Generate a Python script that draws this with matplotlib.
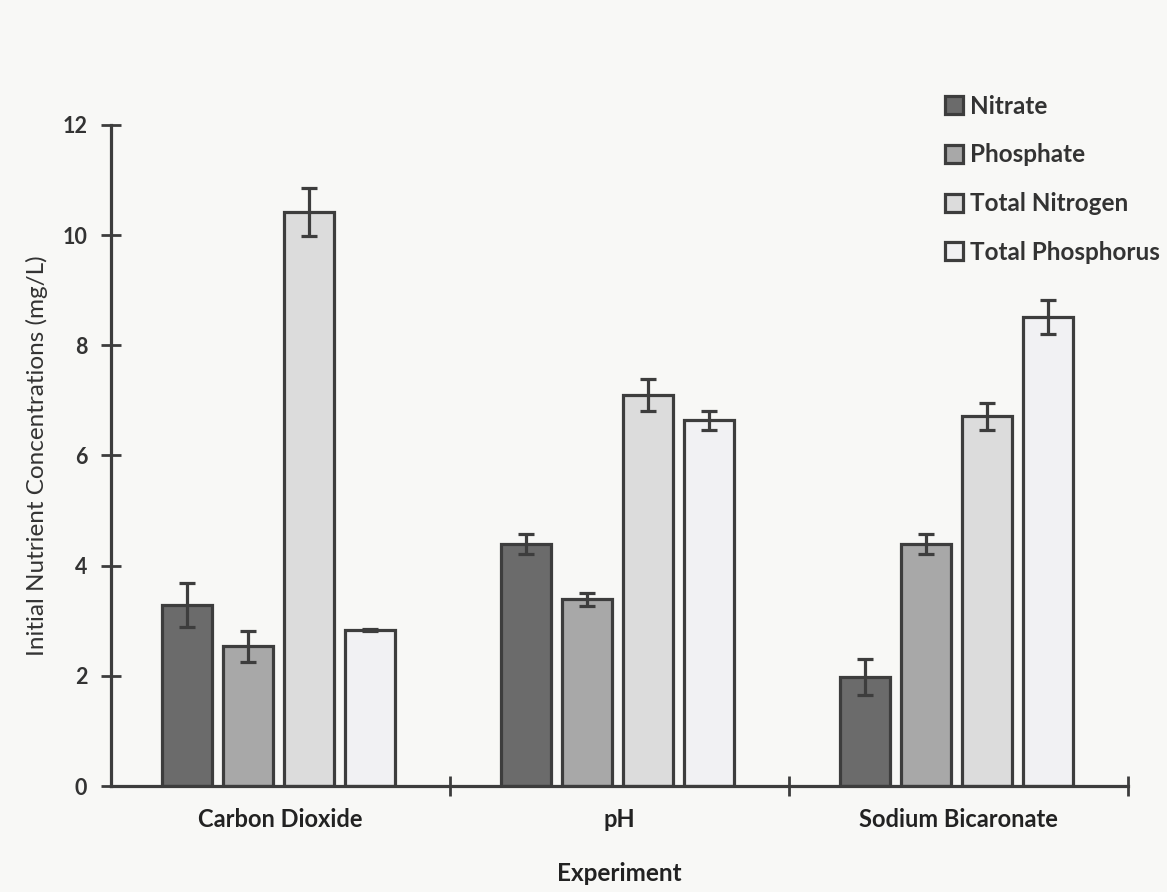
import matplotlib.pyplot as plt
import numpy as np

# данные
experiments = ["Carbon Dioxide", "pH", "Sodium Bicaronate"]
series = ["Nitrate", "Phosphate", "Total Nitrogen", "Total Phosphorus"]
nitrate = [3.28, 4.39, 1.98]
phosphate = [2.54, 3.39, 4.39]
total_nitrogen = [10.42, 7.10, 6.71]
total_phosphorus = [2.83, 6.64, 8.51]
nitrate_err = [0.40, 0.18, 0.33]
phosphate_err = [0.28, 0.12, 0.18]
total_nitrogen_err = [0.43, 0.29, 0.25]
total_phosphorus_err = [0.02, 0.17, 0.31]

values = [nitrate, phosphate, total_nitrogen, total_phosphorus]
errors = [nitrate_err, phosphate_err, total_nitrogen_err, total_phosphorus_err]
colors = ["#6b6b6b", "#a8a8a8", "#dcdcdc", "#f1f1f3"]
edge = "#3d3d3d"
bg = "#f8f8f6"

plt.rcParams['font.family'] = ['Lato', 'DejaVu Sans']

fig = plt.figure(figsize=(11.67, 8.92), dpi=100, facecolor=bg)
ax = fig.add_axes([0.0951, 0.1188, 0.8715, 0.7411])
ax.set_facecolor(bg)

x = np.arange(len(experiments))
width = 0.147
step = 0.18
for i in range(len(series)):
    pos = x + (i - 1.5) * step
    ax.bar(pos - 0.005, values[i], width, color=colors[i], edgecolor=edge, linewidth=2.3,
           label=series[i], zorder=2)
    ax.errorbar(pos - 0.005, values[i], yerr=errors[i], fmt='none', ecolor=edge,
                elinewidth=2.3, capsize=6, capthick=2.3, zorder=3)

ax.set_xlim(-0.5, 2.5)
ax.set_ylim(0, 12)
ax.set_yticks(range(0, 13, 2))
ax.set_yticklabels([str(v) for v in range(0, 13, 2)], fontsize=15.5, fontweight='bold', color="#333333")
ax.tick_params(axis='y', direction='inout', length=14, width=2, color=edge, pad=10)

# подписи категорий без засечек, засечки — на границах категорий
ax.set_xticks(x)
ax.set_xticklabels(experiments, fontsize=17, fontweight='bold', color="#222222")
ax.tick_params(axis='x', length=0, pad=16)
ax.set_xticks([0.5, 1.5, 2.5], minor=True)
ax.tick_params(axis='x', which='minor', direction='inout', length=14, width=2, color=edge)

for s in ["top", "right"]:
    ax.spines[s].set_visible(False)
for s in ["left", "bottom"]:
    ax.spines[s].set_linewidth(2.3)
    ax.spines[s].set_color(edge)

ax.set_ylabel("Initial Nutrient Concentrations (mg/L)", fontsize=17.5, color="#333333", labelpad=10)
ax.set_xlabel("Experiment", fontsize=17.5, fontweight='bold', color="#222222", labelpad=22)

leg = fig.legend(loc='upper left', bbox_to_anchor=(0.81, 0.894), frameon=False,
                 prop={'size': 17.5, 'weight': 'bold'}, handlelength=0.75, handleheight=0.75,
                 handletextpad=0.25, labelspacing=1.06, borderpad=0, borderaxespad=0)
for t in leg.get_texts():
    t.set_color("#333333")

fig.savefig("out.png", dpi=100, facecolor=bg)
